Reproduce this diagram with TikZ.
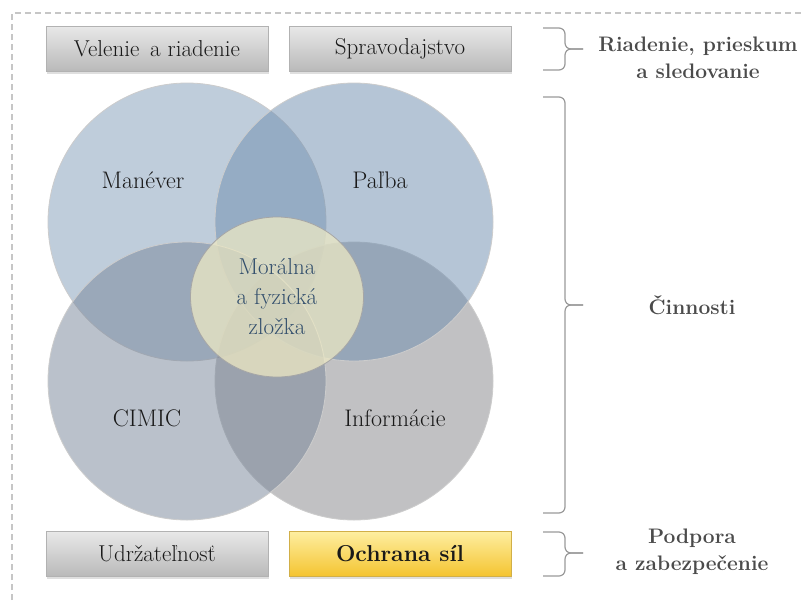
\documentclass[tikz,border=0pt]{standalone}
\usepackage{tikz}
\usetikzlibrary{shapes,positioning,shadows}
\usepackage{xcolor}

\definecolor{discA}{RGB}{128,155,184}
\definecolor{discB}{RGB}{108,140,174}
\definecolor{discC}{RGB}{118,132,152}
\definecolor{discD}{RGB}{132,132,136}
\definecolor{coreFill}{RGB}{236,232,196}
\definecolor{coreText}{RGB}{50,78,108}
\definecolor{labGray}{RGB}{75,75,75}
\definecolor{goldTop}{RGB}{254,238,160}
\definecolor{goldBot}{RGB}{244,196,48}

\begin{document}
\begin{tikzpicture}[x=1pt, y=-1pt,
    tab/.style={rectangle, draw=gray!60, minimum width=222pt, minimum height=45pt,
        top color=gray!18, bottom color=gray!55, text=black!90,
        font=\fontsize{23}{27}\selectfont,
        drop shadow={opacity=0.25, shadow xshift=1pt, shadow yshift=-2pt}},
    disc/.style={circle, minimum size=278pt, inner sep=0pt, fill opacity=0.5,
        draw=white!60!gray, line width=0.8pt},
    funcname/.style={font=\fontsize{24}{28}\selectfont, text=black!90},
    sidelabel/.style={font=\bfseries\fontsize{21}{27}\selectfont, text=labGray, align=center},
    bracket/.style={draw=gray!80, line width=1.2pt, rounded corners=6pt}
]
\useasboundingbox (0,0) rectangle (802,600);
\draw[gray!45, line width=1.2pt, dash pattern=on 6pt off 4pt] (12,600) -- (12,13) -- (802,13);

% top and bottom bars
\node[tab] (cmd) at (157,49) {Velenie\, a riadenie};
\node[tab] (intel) at (400,49) {Spravodajstvo};
\node[tab] (sustain) at (157,554) {Udržateľnosť};
\node[tab, top color=goldTop, bottom color=goldBot, draw=goldBot!70!gray,
    font=\bfseries\fontsize{23}{27}\selectfont] (protect) at (400,554) {Ochrana síl};

% four functions
\node[disc, fill=discA] (maneuver) at (187,222) {};
\node[disc, fill=discD] (info) at (354,381) {};
\node[disc, fill=discB] (fire) at (354,222) {};
\node[disc, fill=discC] (cimic) at (187,381) {};
\node[ellipse, minimum width=173pt, minimum height=160pt, fill=coreFill, fill opacity=0.75,
    draw=gray!70, line width=0.8pt] (core) at (277,297) {};

\node[funcname] (lman) at (143,180) {Manéver};
\node[funcname] (lfire) at (380,180) {Paľba};
\node[funcname] (lcimic) at (147,418) {CIMIC};
\node[funcname] (linfo) at (395,418) {Informácie};
\node[funcname, text=coreText, align=center, font=\fontsize{23}{30}\selectfont] (lcore) at (277,297)
    {Morálna\\a fyzická\\zložka};

% brackets
\draw[bracket] (543,28) -- (565,28) -- (565,49) -- (583,49);
\draw[bracket] (543,70) -- (565,70) -- (565,49) -- (583,49);
\draw[bracket] (543,97) -- (565,97) -- (565,305) -- (583,305);
\draw[bracket] (543,513) -- (565,513) -- (565,305) -- (583,305);
\draw[bracket] (543,532) -- (565,532) -- (565,553) -- (583,553);
\draw[bracket] (543,576) -- (565,576) -- (565,553) -- (583,553);

\node[sidelabel] (rcmd) at (698,58) {Riadenie, prieskum\\a sledovanie};
\node[sidelabel] (ract) at (692,305) {Činnosti};
\node[sidelabel] (rsup) at (692,552) {Podpora\\a zabezpečenie};
\end{tikzpicture}
\end{document}
